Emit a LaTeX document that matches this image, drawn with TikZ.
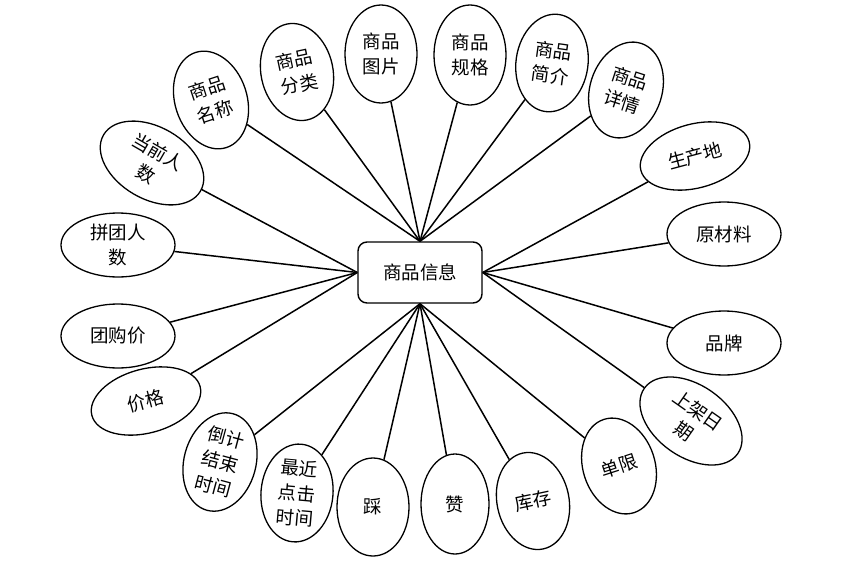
\documentclass[tikz,border=0pt]{standalone}
\usepackage{fontspec}
\newfontfamily\cjk{Noto Sans CJK SC}
\usetikzlibrary{shapes.geometric}
\begin{document}
\begin{tikzpicture}[x=1pt,y=-1pt,
 attr/.style={ellipse,draw,line width=1.3pt,inner sep=0pt,align=center,fill=white,font=\cjk\fontsize{18.5}{25}\selectfont},
 vert/.style={attr,minimum width=72pt,minimum height=98pt},
 horz/.style={attr,minimum width=114pt,minimum height=64pt},
 ent/.style={rectangle,rounded corners=9pt,draw,line width=1.4pt,fill=white,minimum width=124pt,minimum height=61pt,font=\cjk\fontsize{18.5}{25}\selectfont},
 link/.style={line width=1.5pt}]
\useasboundingbox (0,0) rectangle (848,562);
\node[ent] (box) at (420,272.5) {商品信息};
% top group
\node[vert,minimum height=100pt,rotate=18] (n1) at (211,100) {商品\\名称};
\node[vert,rotate=12] (n2) at (297,72) {商品\\分类};
\node[vert] (n3) at (381,54) {商品\\图片};
\node[vert,minimum height=100pt] (n4) at (470,55) {商品\\规格};
\node[vert,rotate=-8] (n5) at (552,63) {商品\\简介};
\node[vert,rotate=-18] (n6) at (626,90) {商品\\详情};
% left group
\node[attr,minimum width=112pt,minimum height=72pt,rotate=-30] (n7) at (152,163) {当前人\\数};
\node[horz] (n8) at (118,245) {拼团人\\数};
\node[horz] (n9) at (118,336) {团购价};
\node[horz,minimum width=112pt,rotate=15] (n10) at (146,401) {价格};
% right group
\node[horz,minimum width=112pt,rotate=15] (n11) at (695,156) {生产地};
\node[horz] (n12) at (724,234) {原材料};
\node[horz] (n13) at (724,343) {品牌};
\node[attr,minimum width=114pt,minimum height=72pt,rotate=-35] (n14) at (691,421) {上架日\\期};
% bottom group
\node[vert,minimum height=100pt,rotate=-15] (n15) at (220,462) {倒计\\结束\\时间};
\node[vert,rotate=-5] (n16) at (297,493) {最近\\点击\\时间};
\node[vert] (n17) at (373,507) {踩};
\node[vert,minimum width=68pt,minimum height=100pt] (n18) at (455,504) {赞};
\node[vert,rotate=12] (n19) at (533,501) {库存};
\node[vert,rotate=18] (n20) at (619,466) {单限};
% links
\foreach \n in {n1,n2,n3,n4,n5,n6} \draw[link] (\n) -- (box.north);
\foreach \n in {n7,n8,n9,n10} \draw[link] (\n) -- (box.west);
\foreach \n in {n11,n12,n13,n14} \draw[link] (\n) -- (box.east);
\foreach \n in {n15,n16,n17,n18,n19,n20} \draw[link] (\n) -- (box.south);
\end{tikzpicture}
\end{document}
